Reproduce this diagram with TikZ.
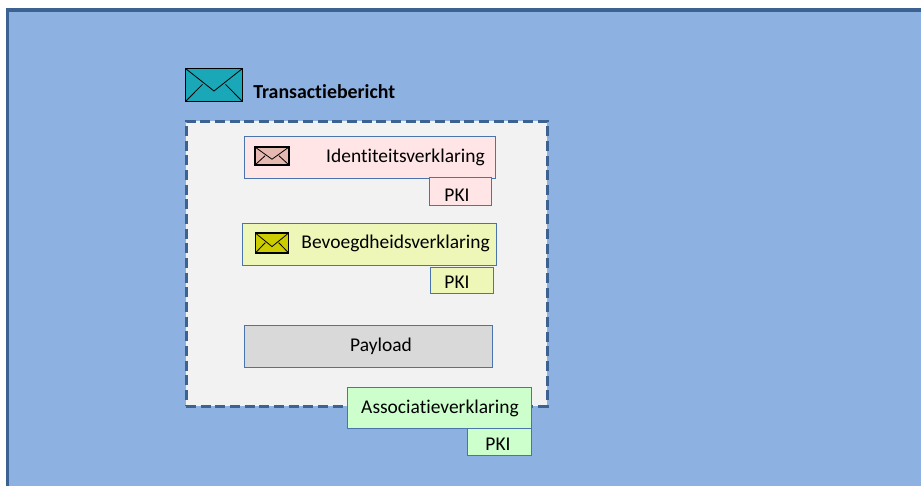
\documentclass[tikz,border=0pt]{standalone}
\usepackage{fontspec}
\setmainfont{Carlito}[Ligatures=NoCommon]
\usetikzlibrary{calc,positioning}
\definecolor{backblue}{HTML}{8DB2E2}
\definecolor{edgeblue}{HTML}{3B6291}
\definecolor{boxblue}{HTML}{4A74AC}
\definecolor{identpink}{HTML}{FFE5E5}
\definecolor{envpink}{HTML}{E6B9B0}
\definecolor{bevoegdyellow}{HTML}{EEF7B8}
\definecolor{envyellow}{HTML}{CCCC00}
\definecolor{assocgreen}{HTML}{CCFFCC}
\definecolor{envteal}{HTML}{1AA7B8}
\tikzset{
  box/.style={draw=boxblue,line width=0.7pt,inner sep=0pt},
  txt/.style={inner sep=0pt,font=\fontsize{14.6}{16}\selectfont},
  envelope/.style={draw=black,line width=0.8pt,inner sep=0pt,
    path picture={
      \coordinate (nw) at (path picture bounding box.north west);
      \coordinate (ne) at (path picture bounding box.north east);
      \coordinate (sw) at (path picture bounding box.south west);
      \coordinate (se) at (path picture bounding box.south east);
      \coordinate (fl) at ($(nw)!0.68!(sw)$);
      \coordinate (fr) at ($(ne)!0.68!(se)$);
      \coordinate (sl) at ($(nw)!0.48!(sw)$);
      \coordinate (sr) at ($(ne)!0.48!(se)$);
      \draw[black,line width=0.6pt] (nw) -- ($(fl)!0.5!(fr)$) -- (ne);
      \draw[black,line width=0.6pt] (sw) -- ($(sl)!0.3!(sr)$);
      \draw[black,line width=0.6pt] (se) -- ($(sl)!0.7!(sr)$);
    }},
}
\begin{document}
\begin{tikzpicture}[x=0.75pt,y=-0.75pt]
  \useasboundingbox (0,0) rectangle (921,486);
  \fill[backblue] (7.7,10) rectangle (921,486);
  \draw[edgeblue,line width=2.6pt] (7.7,486) -- (7.7,10) -- (921,10);

  \node[envelope,fill=envteal,minimum width=43pt,minimum height=25pt] (msgenv) at (214,85) {};
  \node[txt,anchor=west,font=\fontsize{14.9}{16}\selectfont\bfseries] (msglabel) at (253,92) {Transactiebericht};

  \node[draw=edgeblue,fill=black!5,line width=2.25pt,dash pattern=on 7.5pt off 3.5pt,inner sep=0pt,
    minimum width=270.75pt,minimum height=213.75pt] (msgbox) at (366.5,263.5) {};

  \node[box,fill=identpink,minimum width=188.25pt,minimum height=32pt] (identbox) at (369.5,157.5) {};
  \node[envelope,fill=envpink,minimum width=25.5pt,minimum height=13.5pt] (identenv) at (272,156) {};
  \node[txt,anchor=east] (identlabel) at (485,157) {Identiteitsverklaring};
  \node[box,fill=identpink,minimum width=47pt,minimum height=20.5pt] (identpki) at (460.5,191.5) {};
  \node[txt] (identpkilabel) at (457,195) {PKI};

  \node[box,fill=bevoegdyellow,minimum width=190pt,minimum height=32pt] (bevoegdbox) at (369.5,244.5) {};
  \node[envelope,fill=envyellow,minimum width=25pt,minimum height=15pt] (bevoegdenv) at (272,243) {};
  \node[txt,anchor=east] (bevoegdlabel) at (490,243) {Bevoegdheidsverklaring};
  \node[box,fill=bevoegdyellow,minimum width=47.5pt,minimum height=20pt] (bevoegdpki) at (462,280.5) {};
  \node[txt] (bevoegdpkilabel) at (457,282) {PKI};

  \node[box,fill=black!15,minimum width=186pt,minimum height=32pt] (payload) at (368,346.5) {};
  \node[txt] (payloadlabel) at (381,346) {Payload};

  \node[box,fill=assocgreen,minimum width=138pt,minimum height=30.5pt] (assocbox) at (439,408) {};
  \node[txt] (assoclabel) at (440,408) {Associatieverklaring};
  \node[box,fill=assocgreen,minimum width=48pt,minimum height=20pt] (assocpki) at (499,442) {};
  \node[txt] (assocpkilabel) at (498,444) {PKI};
\end{tikzpicture}
\end{document}
